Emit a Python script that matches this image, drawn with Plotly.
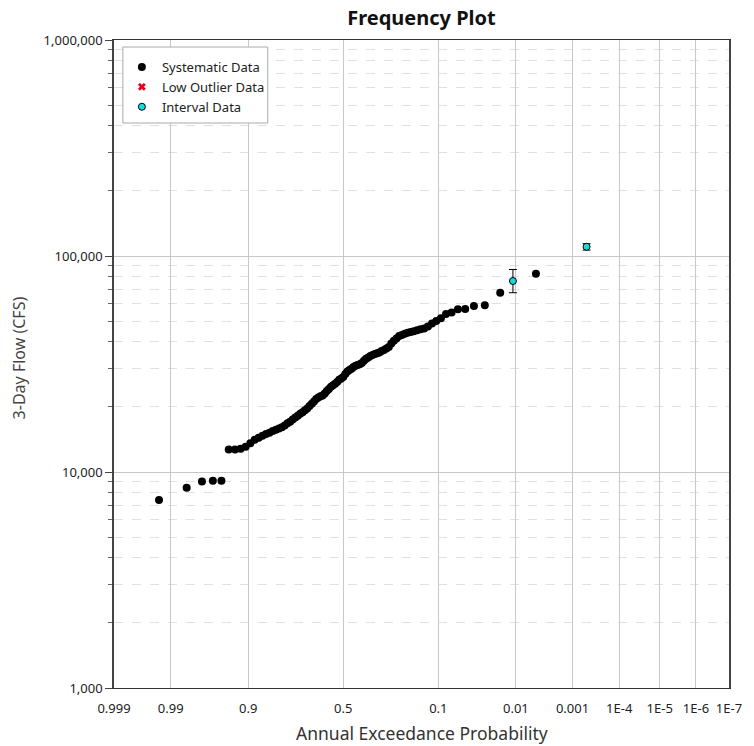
import plotly.graph_objects as go
from statistics import NormalDist

# ---------------- data ----------------
sys_prob = [0.0047, 0.0172, 0.0282, 0.0391, 0.0501, 0.0611, 0.0721, 0.0830, 0.0940, 0.1050,
            0.1159, 0.1269, 0.1379, 0.1488, 0.1598, 0.1708, 0.1818, 0.1927, 0.2037, 0.2147,
            0.2256, 0.2366, 0.2476, 0.2585, 0.2695, 0.2805, 0.2915, 0.3024, 0.3134, 0.3244,
            0.3353, 0.3463, 0.3573, 0.3682, 0.3792, 0.3902, 0.4012, 0.4121, 0.4231, 0.4341,
            0.4450, 0.4560, 0.4670, 0.4779, 0.4889, 0.4999, 0.5109, 0.5218, 0.5328, 0.5438,
            0.5547, 0.5657, 0.5767, 0.5876, 0.5986, 0.6096, 0.6206, 0.6315, 0.6425, 0.6535,
            0.6644, 0.6754, 0.6864, 0.6973, 0.7083, 0.7193, 0.7303, 0.7412, 0.7522, 0.7632,
            0.7741, 0.7851, 0.7961, 0.8070, 0.8180, 0.8290, 0.8400, 0.8509, 0.8619, 0.8729,
            0.8838, 0.8948, 0.9058, 0.9167, 0.9277, 0.9387, 0.9497, 0.9606, 0.9716, 0.9826,
            0.9935]
sys_flow = [82800, 67600, 59100, 58700, 56900, 56700, 54700, 53900, 51500, 50000,
            48700, 47200, 46200, 45800, 45300, 44800, 44500, 44100, 43700, 43100,
            42600, 41500, 40500, 39300, 37900, 37300, 36700, 36300, 35700, 35500,
            35200, 34800, 34400, 33900, 33400, 32700, 32000, 31500, 31300, 31000,
            30600, 30100, 29700, 29200, 28400, 27500, 27100, 26700, 26100, 25600,
            25200, 24800, 24200, 23700, 23100, 22600, 22400, 22100, 21800, 21200,
            20700, 20200, 19700, 19300, 18900, 18600, 18200, 17900, 17500, 17100,
            16800, 16400, 16100, 15900, 15700, 15500, 15200, 15000, 14700, 14400,
            14100, 13600, 13100, 12800, 12700, 12700, 9120, 9100, 9030, 8460,
            7420]

int_prob = [0.0111, 0.00052]
int_flow = [76600, 110400]
int_low = [67600, 106500]
int_high = [86600, 114000]

tick_prob = [0.999, 0.99, 0.9, 0.5, 0.1, 0.01, 0.001, 1e-4, 1e-5, 1e-6, 1e-7]
tick_text = ["0.999", "0.99", "0.9", "0.5", "0.1", "0.01", "0.001", "1E-4", "1E-5", "1E-6", "1E-7"]

y_tickvals = [1000, 10000, 100000, 1000000]
y_ticktext = ["1,000", "10,000", "100,000", "1,000,000"]

# ---------------- probability scale ----------------
nd = NormalDist()
def zq(p):
    return nd.inv_cdf(1.0 - p)

sys_x = [zq(p) for p in sys_prob]
int_x = [zq(p) for p in int_prob]
tick_x = [zq(p) for p in tick_prob]

fig = go.Figure()

fig.add_trace(go.Scatter(
    x=sys_x, y=sys_flow, mode="markers", name="Systematic Data",
    marker=dict(color="black", size=8, symbol="circle"),
))
fig.add_trace(go.Scatter(
    x=[None], y=[None], mode="markers", name="Low Outlier Data",
    marker=dict(color="#e8001c", size=7, symbol="x"),
))
fig.add_trace(go.Scatter(
    x=int_x, y=int_flow, mode="markers", name="Interval Data",
    marker=dict(color="#19dada", size=7, symbol="circle", line=dict(color="black", width=1)),
    error_y=dict(type="data", symmetric=False,
                 array=[h - v for h, v in zip(int_high, int_flow)],
                 arrayminus=[v - l for v, l in zip(int_flow, int_low)],
                 color="black", thickness=1, width=4),
))

L, R, T, B = 114, 16, 40, 58
W, H = 754, 746
pw, ph = W - L - R, H - T - B

def px_x(px):
    return (px - L) / pw

def px_y(py):
    return 1 - (py - T) / ph

fig.update_layout(
    width=W, height=H,
    margin=dict(l=L, r=R, t=T, b=B, pad=0),
    paper_bgcolor="white", plot_bgcolor="white",
    font=dict(family="Noto Sans", size=12, color="#222"),
    title=dict(text="<b>Frequency Plot</b>", x=0.5, xref="paper",
               y=1 - 18 / H, yref="container", yanchor="middle", xanchor="center",
               font=dict(family="Noto Sans", size=20, color="#111")),
    showlegend=True,
    legend=dict(x=px_x(122), y=px_y(52), xanchor="left", yanchor="top",
                bgcolor="rgba(0,0,0,0)", borderwidth=0,
                font=dict(family="Noto Sans", size=13, color="#222"),
                tracegroupgap=0, itemwidth=30),
    shapes=[dict(type="rect", xref="paper", yref="paper", layer="above",
                 x0=px_x(123), x1=px_x(270), y0=px_y(123), y1=px_y(47),
                 fillcolor="white", line=dict(color="#aaaaaa", width=1))],
)

fig.update_xaxes(
    range=[zq(0.999), zq(1e-7)], type="linear",
    tickmode="array", tickvals=tick_x, ticktext=tick_text,
    showgrid=True, gridcolor="#c8c8c8", gridwidth=1,
    showline=True, linecolor="#333333", linewidth=1, mirror=True,
    ticks="", ticklabelstandoff=8,
    tickfont=dict(family="Noto Sans", size=13, color="#222"),
    zeroline=False,
)
fig.update_yaxes(
    type="log", range=[3, 6],
    tickmode="array", tickvals=y_tickvals, ticktext=y_ticktext,
    showgrid=True, gridcolor="#c8c8c8", gridwidth=1,
    showline=True, linecolor="#444444", linewidth=1.5, mirror=True,
    ticks="outside", ticklen=7, tickcolor="#444444",
    tickfont=dict(family="Noto Sans", size=13, color="#222"),
    minor=dict(ticks="outside", ticklen=4, tickcolor="#666666", dtick="D1",
               showgrid=True, gridcolor="#e0e0e0", griddash="dash"),
    zeroline=False,
)

fig.add_annotation(text="Annual Exceedance Probability", xref="paper", yref="paper",
                   x=0.5, y=-(733 - (T + ph)) / ph, xanchor="center", yanchor="middle",
                   showarrow=False, font=dict(family="Noto Sans", size=17.5, color="#333"))
fig.add_annotation(text="3-Day Flow (CFS)", xref="paper", yref="paper",
                   x=-(L - 18) / pw, y=px_y(358), xanchor="center", yanchor="middle", textangle=-90,
                   showarrow=False, font=dict(family="Noto Sans", size=16, color="#444"))

fig.write_html("out.html")
